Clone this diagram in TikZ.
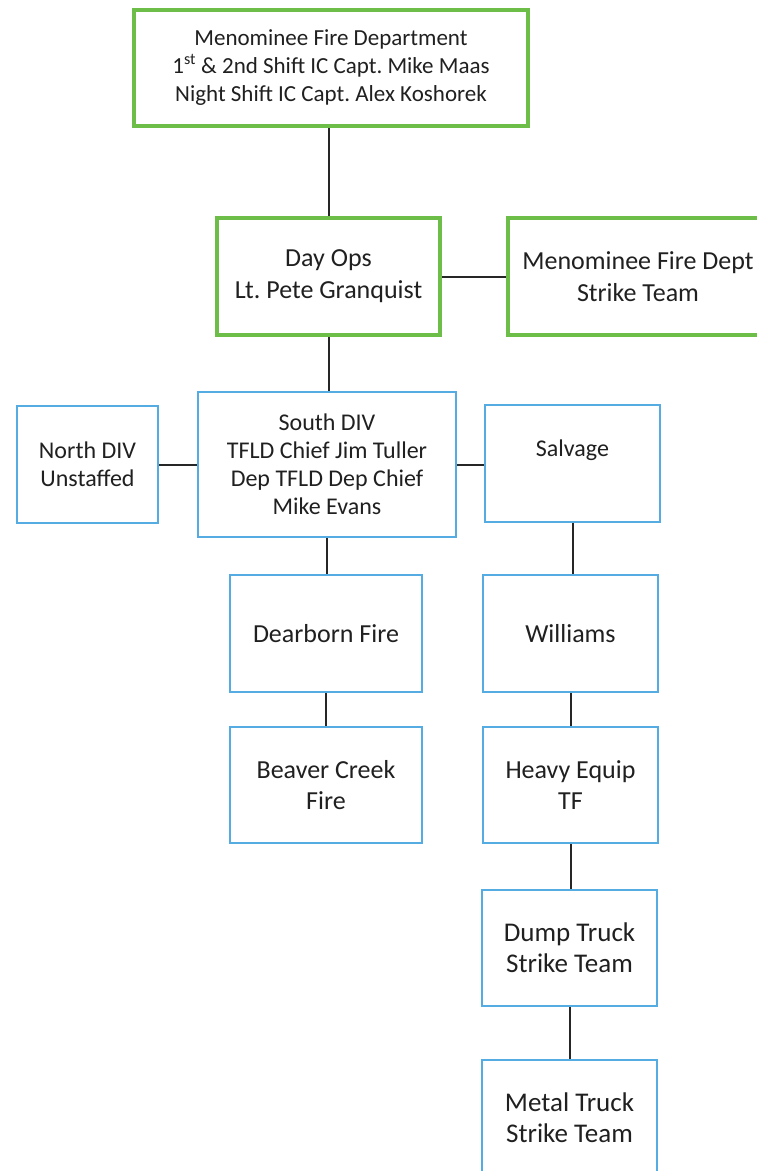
\documentclass[tikz,border=0pt]{standalone}
\usepackage{fontspec}
\setmainfont{Carlito}
\frenchspacing
\definecolor{gline}{RGB}{108,190,72}
\definecolor{bline}{RGB}{84,172,226}
\definecolor{txt}{RGB}{32,32,32}
\tikzset{
  box/.style={draw, fill=white, align=center, inner sep=0pt, text=txt},
  gbox/.style={box, draw=gline, line width=4.5pt},
  bbox/.style={box, draw=bline, line width=2.6pt},
  fa/.style={font=\fontsize{23}{28}\selectfont},
  fb/.style={font=\fontsize{26}{32}\selectfont},
  fc/.style={font=\fontsize{24}{28}\selectfont},
  fd/.style={font=\fontsize{26}{30.5}\selectfont},
  fe/.style={font=\fontsize{27}{31}\selectfont},
  link/.style={draw=black!85, line width=2pt}
}
\begin{document}
\begin{tikzpicture}[x=1pt,y=-1pt]
\useasboundingbox (0,0) rectangle (757,1171);
\clip (0,0) rectangle (757,1171);
\fill[white] (0,0) rectangle (757,1171);
% green boxes
\node[gbox, fa, minimum width=394pt, minimum height=116pt] (top) at (331,68)
  {Menominee Fire Department\\1\textsuperscript{st} \& 2nd Shift IC Capt. Mike Maas\\Night Shift IC Capt. Alex Koshorek};
\node[gbox, fb, minimum width=223pt, minimum height=117pt] (dayops) at (328.5,276.5)
  {Day Ops\\Lt. Pete Granquist};
\node[gbox, fb, minimum width=260pt, minimum height=117pt] (strike) at (638,276.5)
  {Menominee Fire Dept\\Strike Team};
% blue boxes
\node[bbox, fc, minimum width=258pt, minimum height=145pt] (south) at (327,464.5)
  {South DIV\\TFLD Chief Jim Tuller\\Dep TFLD Dep Chief\\Mike Evans};
\node[bbox, fc, minimum width=141pt, minimum height=117pt] (north) at (87.5,464.5)
  {North DIV\\Unstaffed};
\node[bbox, minimum width=175pt, minimum height=117pt] (salvage) at (572.5,463.5) {};
\node[text=txt, fc, inner sep=0pt] (salvagetext) at (572.5,450) {Salvage};
\node[bbox, fd, minimum width=192pt, minimum height=117pt] (dearborn) at (326,633.5)
  {Dearborn Fire};
\node[bbox, fd, minimum width=192pt, minimum height=116pt] (beaver) at (326,785)
  {Beaver Creek\\Fire};
\node[bbox, fd, minimum width=175pt, minimum height=117pt] (williams) at (570.5,633.5)
  {Williams};
\node[bbox, fd, minimum width=175pt, minimum height=116pt] (heavy) at (570.5,785)
  {Heavy Equip\\TF};
\node[bbox, fe, minimum width=175pt, minimum height=116pt] (dump) at (569.5,948)
  {Dump Truck\\Strike Team};
\node[bbox, fe, minimum width=175pt, minimum height=116pt] (metal) at (569.5,1118)
  {Metal Truck\\Strike Team};
% connectors
\draw[link] (dayops.north |- top.south) -- (dayops.north);
\draw[link] (dayops.east) -- (dayops.east -| strike.west);
\draw[link] (dayops.south) -- (dayops.south |- south.north);
\draw[link] (north.east) -- (north.east -| south.west);
\draw[link] (south.east) -- (south.east -| salvage.west);
\draw[link] (south.south) -- (south.south |- dearborn.north);
\draw[link] (dearborn.south) -- (beaver.north);
\draw[link] (salvage.south) -- (salvage.south |- williams.north);
\draw[link] (williams.south) -- (heavy.north);
\draw[link] (heavy.south) -- (heavy.south |- dump.north);
\draw[link] (dump.south) -- (metal.north);
\end{tikzpicture}
\end{document}
